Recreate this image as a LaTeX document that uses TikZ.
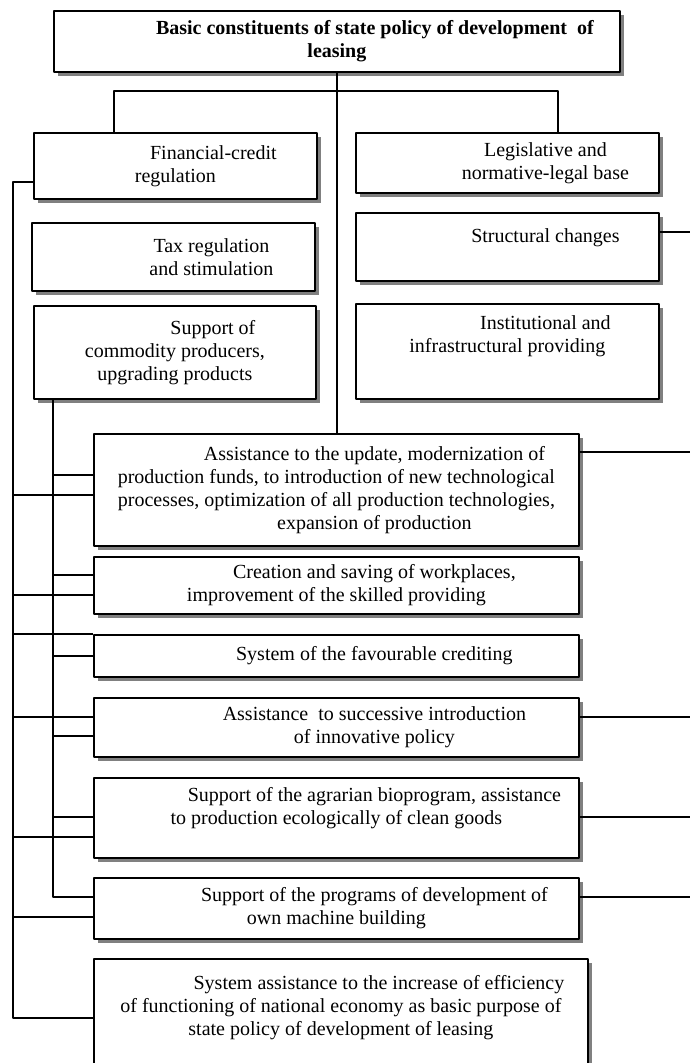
\documentclass[tikz,border=0pt]{standalone}
\usepackage{fontspec}
\setmainfont{Liberation Serif}
\usetikzlibrary{shadows}
\newcommand{\ind}{\hspace*{38pt}}

\begin{document}
\begin{tikzpicture}[x=0.5pt, y=-0.5pt, line join=round, font=\fontsize{10}{11.5}\selectfont,
	box/.style={draw, line width=0.9pt, fill=white, anchor=north west, inner sep=0pt, align=center,
		drop shadow={shadow xshift=2pt, shadow yshift=-2pt, fill=gray, opacity=1}},
	link/.style={line width=0.7pt}]
	\useasboundingbox (0,0) rectangle (690,1063);
	\coordinate (rim) at (690,0);
	\coordinate (bar) at (336,91);
	\coordinate (otrunk) at (13,1018);
	\coordinate (itrunk) at (53,897);
	% top block
	\node[box, minimum width=283pt, minimum height=30.5pt, font=\fontsize{10}{11.5}\selectfont\bfseries] (top) at (53,10)
		{\ind Basic constituents of state policy of development\ \ of\\leasing};
	% left column
	\node[box, minimum width=141.5pt, minimum height=33pt] (fin) at (33,132) {\ind Financial-credit\\regulation};
	\node[box, minimum width=141.5pt, minimum height=34pt] (tax) at (31,222) {\ind Tax regulation\\\ind and stimulation};
	\node[box, minimum width=141pt, minimum height=46.5pt] (sup) at (33,305) {\ind Support of\\commodity producers,\\upgrading products};
	% right column
	\node[box, minimum width=151.5pt, minimum height=30pt] (leg) at (355,132) {\ind Legislative and\\\ind normative-legal base};
	\node[box, minimum width=151.5pt, minimum height=34pt] (str) at (355,212) {\ind Structural changes\\\mbox{}};
	\node[box, minimum width=151.5pt, minimum height=47.5pt] (inst) at (355,303) {\ind Institutional and\\infrastructural providing\\[6pt]\mbox{}};
	% lower blocks
	\node[box, minimum width=242.5pt, minimum height=56pt] (a1) at (93,433)
		{\ind Assistance to the update, modernization of\\production funds, to introduction of new technological\\processes, optimization of all production technologies,\\\ind expansion of production};
	\node[box, minimum width=242.5pt, minimum height=28.5pt] (cre) at (93,556) {\ind Creation and saving of workplaces,\\improvement of the skilled providing};
	\node[box, minimum width=242.5pt, minimum height=21pt] (fav) at (93,634) {\ind System of the favourable crediting};
	\node[box, minimum width=242.5pt, minimum height=29.5pt] (suc) at (93,697) {\ind Assistance\ \ to successive introduction\\\ind of innovative policy};
	\node[box, minimum width=242.5pt, minimum height=40pt] (agr) at (93,777) {\ind Support of the agrarian bioprogram, assistance\\to production ecologically of clean goods\\\mbox{}};
	\node[box, minimum width=242.5pt, minimum height=30.5pt] (prg) at (93,877) {\ind Support of the programs of development of\\own machine building};
	\node[box, minimum width=247pt, minimum height=58.5pt] (aim) at (93,958)
		{\ind System assistance to the increase of efficiency\\of functioning of national economy as basic purpose of\\state policy of development of leasing\\\mbox{}};
	% connectors
	\draw[link] (top.south) -- (top.south |- a1.north);
	\draw[link] ([xshift=40.5pt]fin.north west) |- (bar) -| ([xshift=101.5pt]leg.north west);
	\draw[link] ([yshift=-25pt]fin.north west) -| (otrunk) -- (otrunk -| aim.west);
	\draw[link] (sup.south -| itrunk) -- (itrunk) -- (itrunk -| prg.west);
	\foreach \b/\o in {a1/31, cre/19.5, fav/0, suc/10, agr/30, prg/20}
		\draw[link] ([yshift=-\o pt]\b.north west) coordinate (p) -- (p -| otrunk);
	\foreach \b/\o in {a1/21, cre/9.5, fav/11, suc/19.5, agr/20}
		\draw[link] ([yshift=-\o pt]\b.north west) coordinate (p) -- (p -| itrunk);
	\foreach \b/\o in {str/10, a1/9.5, suc/10, agr/20, prg/10}
		\draw[link] ([yshift=-\o pt]\b.north east) coordinate (p) -- (p -| rim);
\end{tikzpicture}
\end{document}
